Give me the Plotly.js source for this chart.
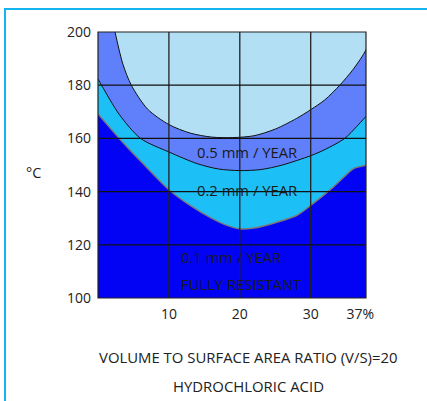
<!DOCTYPE html>
<html>
<head>
<meta charset="utf-8">
<script src="https://cdn.plot.ly/plotly-3.0.1.min.js"></script>
<style>
  html, body { margin: 0; padding: 0; background: #ffffff; }
  #frame { position: absolute; left: 4px; top: 8px; width: 423px; height: 393px;
           border-top: 2px solid #14b4ee; border-left: 2px solid #14b4ee; box-sizing: border-box; pointer-events: none; z-index: 5; }
  #chart { position: absolute; left: 0; top: 0; width: 427px; height: 401px; }
</style>
</head>
<body>
<div id="chart"></div>
<div id="frame"></div>
<script>
// ---- data ----
// boundary of 0.5 mm/year zone (light region above this curve)
const x05 = [2.4, 3.5, 4.7, 7, 10, 13, 16, 19, 22, 25, 28, 30, 32, 34.1, 36, 37.8, 38.6];
const y05 = [200, 188, 180, 171, 165.2, 162, 160.5, 160.3, 161, 163.5, 167.5, 170.8, 174.5, 180, 186, 193.3, 200];
// boundary of 0.2 mm/year zone
const x02 = [0, 0.5, 3, 6, 10, 14, 17, 20, 23, 26, 30, 32, 34.8, 36.5, 37.8];
const y02 = [182.3, 180, 169, 160, 154.9, 150.5, 148.5, 147.9, 148.3, 150, 153.5, 155.8, 160, 164.5, 168.3];
// boundary of 0.1 mm/year (fully resistant) zone
const x01 = [0, 3, 6, 10, 13, 16, 18, 20, 22, 25, 28, 30, 33, 35, 36, 37.8];
const y01 = [169.2, 160, 151.5, 140.7, 134.8, 130, 127.5, 126, 126.3, 128.3, 131, 134.8, 141.3, 146.3, 148.6, 149.9];

const xTickVals = [10, 20, 30];
const xTickText = ['10', '20', '30'];
const xEndTickVals = [37];
const xEndTickText = ['37%'];
const yTickVals = [100, 120, 140, 160, 180, 200];
const yTickText = ['100', '120', '140', '160', '180', '200'];

const zoneLabels = ['0.5 mm / YEAR', '0.2 mm / YEAR', '0.1 mm / YEAR', 'FULLY RESISTANT'];
const zoneLabelX = [21, 21, 11.4, 11.4];
const zoneLabelY = [155, 140.7, 115.3, 105.3];
const zoneLabelAnchor = ['center', 'center', 'left', 'left'];

const xRange = [0, 37.8];
const yRange = [100, 200];

const FONT = '"Open Sans", "Noto Sans", sans-serif';
const cLight = '#b3dff5';
const cMid = '#5f80fa';
const cCyan = '#1cc0f6';
const cDark = '#0202f5';

const traces = [
  { x: x02, y: y02, type: 'scatter', mode: 'lines', fill: 'tozeroy', fillcolor: cCyan,
    line: { color: '#111', width: 1, shape: 'spline', smoothing: 0.8 }, hoverinfo: 'skip' },
  { x: x01, y: y01, type: 'scatter', mode: 'lines', fill: 'tozeroy', fillcolor: cDark,
    line: { color: '#7a7a7a', width: 1.5, shape: 'spline', smoothing: 0.8 }, hoverinfo: 'skip' },
  { x: x05, y: y05, type: 'scatter', mode: 'lines', fill: 'toself', fillcolor: cLight,
    line: { color: '#111', width: 1, shape: 'spline', smoothing: 0.8 }, hoverinfo: 'skip' },
  { x: xEndTickVals, y: [yRange[0]], xaxis: 'x2', type: 'scatter', mode: 'markers',
    marker: { opacity: 0 }, hoverinfo: 'skip' }
];

const shapes = [];
xTickVals.forEach(v => shapes.push({ type: 'line', xref: 'x', yref: 'paper', x0: v, x1: v, y0: 0, y1: 1,
  line: { color: '#222', width: 1.3 }, layer: 'above' }));
yTickVals.slice(1, -1).forEach(v => shapes.push({ type: 'line', xref: 'paper', yref: 'y', x0: 0, x1: 1, y0: v, y1: v,
  line: { color: '#111', width: 1.3 }, layer: 'above' }));
shapes.push({ type: 'rect', xref: 'paper', yref: 'paper', x0: 0, x1: 1, y0: 0, y1: 1,
  line: { color: '#222', width: 1.2 }, layer: 'above' });

const annotations = zoneLabels.map((t, i) => ({
  text: t, x: zoneLabelX[i], y: zoneLabelY[i], xref: 'x', yref: 'y', showarrow: false,
  xanchor: zoneLabelAnchor[i], yanchor: 'middle', font: { family: FONT, size: 14.8, color: '#1a1a1a' }
}));
annotations.push({ text: '°C', xref: 'paper', yref: 'paper', x: -0.24, y: 0.471, showarrow: false,
  xanchor: 'center', yanchor: 'middle', font: { family: FONT, size: 14.5, color: '#222' } });
annotations.push({ text: 'VOLUME TO SURFACE AREA RATIO (V/S)=20', xref: 'paper', yref: 'paper', x: 0.56, y: -0.221,
  showarrow: false, xanchor: 'center', yanchor: 'middle', font: { family: FONT, size: 14.9, color: '#222' } });
annotations.push({ text: 'HYDROCHLORIC ACID', xref: 'paper', yref: 'paper', x: 0.56, y: -0.330,
  showarrow: false, xanchor: 'center', yanchor: 'middle', font: { family: FONT, size: 14.9, color: '#222' } });

const layout = {
  width: 427, height: 401,
  margin: { l: 98, r: 61, t: 32, b: 103 },
  paper_bgcolor: '#ffffff',
  plot_bgcolor: cMid,
  showlegend: false,
  font: { family: FONT, size: 14, color: '#222' },
  xaxis: { range: xRange, tickmode: 'array', tickvals: xTickVals, ticktext: xTickText,
    showgrid: false, zeroline: false, ticks: '', ticklabelstandoff: 6,
    tickfont: { family: FONT, size: 14, color: '#222' }, fixedrange: true },
  xaxis2: { range: xRange, overlaying: 'x', side: 'bottom', tickmode: 'array', tickvals: xEndTickVals,
    ticktext: xEndTickText, showgrid: false, zeroline: false, ticks: '', ticklabelstandoff: 6,
    tickfont: { family: FONT, size: 14, color: '#222' }, fixedrange: true },
  yaxis: { range: yRange, tickmode: 'array', tickvals: yTickVals, ticktext: yTickText,
    showgrid: false, zeroline: false, ticks: '', ticklabelstandoff: 6,
    tickfont: { family: FONT, size: 14, color: '#222' }, fixedrange: true },
  shapes: shapes,
  annotations: annotations
};

Plotly.newPlot('chart', traces, layout, { displayModeBar: false, staticPlot: true });
</script>
</body>
</html>
